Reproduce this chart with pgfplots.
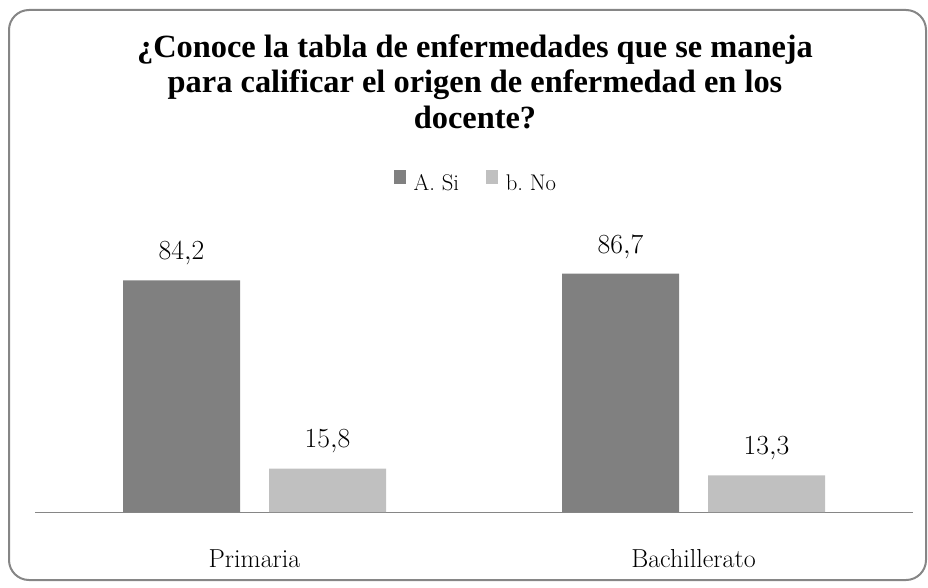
\documentclass[border=0pt]{standalone}
\usepackage{fontspec}
\usepackage{pgfplots}
\pgfplotsset{compat=1.18}
\newfontfamily\titlefont{Liberation Serif}
\definecolor{darkbar}{HTML}{808080}
\definecolor{lightbar}{HTML}{C0C0C0}
\definecolor{framegray}{HTML}{868686}
\pgfkeys{/pgf/number format/.cd,use comma,fixed,fixed zerofill,precision=1}
\begin{document}
\begin{tikzpicture}
\path[use as bounding box] (0,0) rectangle (696pt,440.25pt);
\draw[framegray, line width=1.5pt, rounded corners=15pt] (6.75pt,5.25pt) rectangle (694.5pt,432.75pt);
\node[anchor=base, font=\titlefont\bfseries\fontsize{24.3}{28}\selectfont] at (356.25pt,396.75pt) {¿Conoce la tabla de enfermedades que se maneja};
\node[anchor=base, font=\titlefont\bfseries\fontsize{24.3}{28}\selectfont] at (356.25pt,370.5pt) {para calificar el origen de enfermedad en los};
\node[anchor=base, font=\titlefont\bfseries\fontsize{24.3}{28}\selectfont] at (356.25pt,344.25pt) {docente?};
\begin{axis}[
  at={(26.25pt,56.25pt)}, anchor=south west,
  scale only axis, width=658.5pt, height=206.25pt,
  ymin=0, ymax=100, xmin=-0.5, xmax=1.5,
  clip=false,
  axis x line=bottom, axis y line=none,
  axis line style={-, framegray, line width=0.75pt},
  xtick={0,1}, xticklabels={Primaria,Bachillerato},
  xtick style={draw=none}, ytick=\empty,
  xticklabel style={anchor=base, yshift=-37.5pt, font=\fontsize{19.5}{23}\selectfont},
  ybar, bar width=87.75pt,
  nodes near coords,
  every node near coord/.append style={font=\fontsize{19.5}{23}\selectfont, inner sep=0pt, yshift=11.2pt, text=black},
  legend style={at={(0.501,1.2036)}, anchor=center, draw=none, fill=none,
    legend columns=2, font=\fontsize{17}{20}\selectfont, inner sep=0pt,
    nodes={inner sep=0pt},
    /tikz/every even column/.append style={column sep=20pt},
    /tikz/every odd column/.append style={column sep=6pt}},
  legend image code/.code={\fill[#1] (0pt,-0.5pt) rectangle (9pt,10pt);},
]
\addplot[fill=darkbar, draw=none, bar shift=-54.75pt] coordinates {(0,84.2) (1,86.7)};
\addlegendentry{A.\ Si}
\addplot[fill=lightbar, draw=none, bar shift=54.75pt] coordinates {(0,15.8) (1,13.3)};
\addlegendentry{b.\ No}
\end{axis}
\end{tikzpicture}
\end{document}
